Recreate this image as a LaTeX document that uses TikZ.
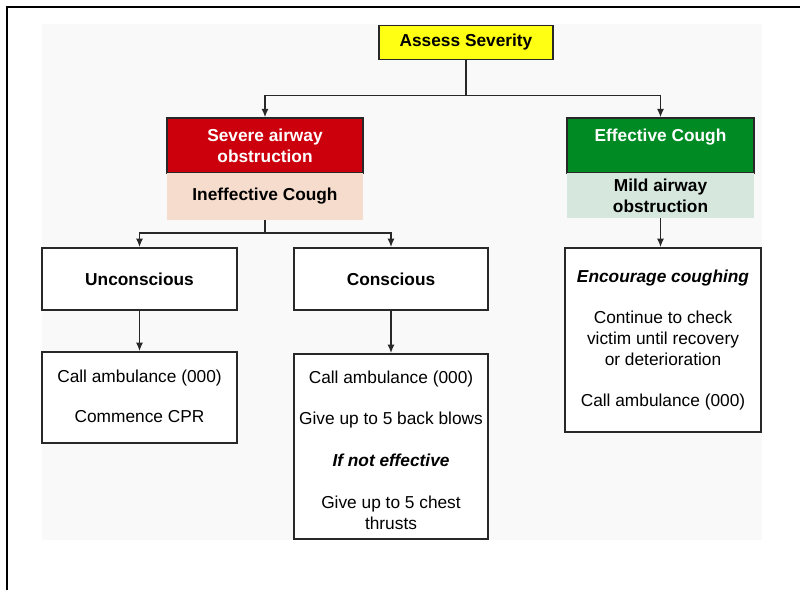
\documentclass[tikz,border=0pt]{standalone}
\usepackage{fontspec}
\setmainfont{Liberation Sans}
\usetikzlibrary{arrows.meta}
\definecolor{sevred}{RGB}{204,0,12}
\definecolor{peach}{RGB}{245,220,204}
\definecolor{effgreen}{RGB}{0,138,36}
\definecolor{mildgrey}{RGB}{214,232,222}
\definecolor{bgpanel}{RGB}{249,249,249}
\definecolor{yell}{RGB}{255,255,20}
\definecolor{linec}{RGB}{40,40,40}
\tikzset{
  x=1pt, y=-1pt,
  every node/.style={font=\fontsize{17.3}{21}\selectfont, inner sep=0pt, align=center},
  boxed/.style={draw=linec, line width=1.6pt, fill=white},
  conn/.style={draw=linec, line width=1.6pt},
  arr/.style={conn, -{Latex[length=8.5pt,width=7pt]}},
}
\begin{document}
\begin{tikzpicture}
\useasboundingbox (0,0) rectangle (800,590);
\fill[white] (0,0) rectangle (800,590);
\draw[line width=2pt, black] (7,590) -- (7,7) -- (800,7);
\fill[bgpanel] (42,24) rectangle (762,540);

% top
\node[boxed, fill=yell, line width=1.8pt, minimum width=174pt, minimum height=34pt, font=\fontsize{17.3}{21}\selectfont\bfseries] (assess) at (466,42.5) {Assess Severity};

% severe branch
\node[draw=linec, line width=1.2pt, fill=sevred, text=white, minimum width=196pt, minimum height=55pt, font=\fontsize{17.3}{21}\selectfont\bfseries] (severe) at (265,145.5) {Severe airway\\obstruction};
\node[fill=peach, minimum width=196pt, minimum height=47pt, font=\fontsize{17.3}{21}\selectfont\bfseries] (ineff) at (265,196.5) {Ineffective Cough};

% effective branch
\node[draw=linec, line width=1.2pt, fill=effgreen, text=white, minimum width=187pt, minimum height=55pt, font=\fontsize{17.3}{21}\selectfont\bfseries] (effective) at (660.5,145.5) {Effective Cough\\\mbox{}};
\node[fill=mildgrey, minimum width=187pt, minimum height=45pt, font=\fontsize{17.3}{21}\selectfont\bfseries] (mild) at (660.5,195.5) {Mild airway\\obstruction};

% second level
\node[boxed, minimum width=195pt, minimum height=62pt, font=\fontsize{17.3}{21}\selectfont\bfseries] (uncon) at (139.5,279) {Unconscious};
\node[boxed, minimum width=194pt, minimum height=62pt, font=\fontsize{17.3}{21}\selectfont\bfseries] (consc) at (391,279) {Conscious};

% actions
\node[boxed, minimum width=195pt, minimum height=91pt] (callU) at (139.5,397.5) {};
\node (callUtext) at (139.5,396.5) {Call ambulance (000)\\[19pt]Commence CPR};
\node[boxed, minimum width=194pt, minimum height=185pt] (callC) at (391,446.5) {};
\node (callCtext) at (391,450) {Call ambulance (000)\\[20pt]Give up to 5 back blows\\[21pt]\textbf{\textit{If not effective}}\\[21pt]Give up to 5 chest\\thrusts};
\node[boxed, minimum width=196pt, minimum height=184pt] (enc) at (663,340) {};
\node (enctext) at (663,340) {\textbf{\textit{Encourage coughing}}\\[20pt]Continue to check\\victim until recovery\\or deterioration\\[20pt]Call ambulance (000)};

% connectors
\draw[conn] (assess.south) -- ++(0,35) coordinate (j1);
\draw[arr] (j1) -| (severe.north);
\draw[arr] (j1) -| (effective.north);
\draw[conn] (ineff.south) -- ++(0,13) coordinate (j2);
\draw[arr] (j2) -| (uncon.north);
\draw[arr] (j2) -| (consc.north);
\draw[arr] (uncon.south) -- (callU.north);
\draw[arr] (consc.south) -- (callC.north);
\draw[arr] (mild.south) -- (mild.south |- enc.north);
\end{tikzpicture}
\end{document}
